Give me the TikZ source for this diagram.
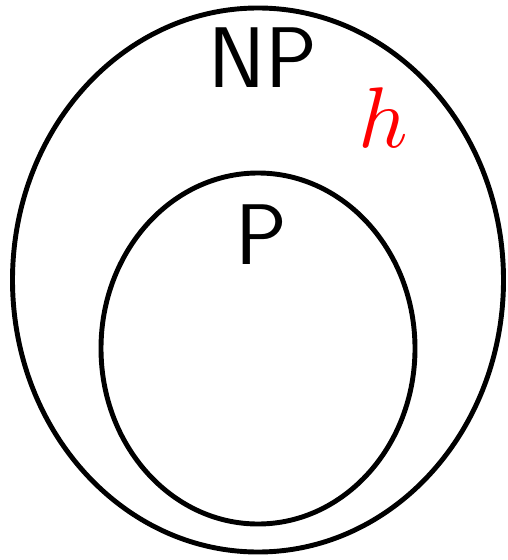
\documentclass[tikz,border=0pt]{standalone}
\usepackage{amsmath,amssymb}
\usepackage{graphicx}
\usepackage{xcolor}
\usepackage{tikz}
\tikzset{every picture/.append style={font=\fontsize{49}{58}\selectfont}}
\definecolor{figred}{HTML}{FF0000}
\tikzset{classset/.style={draw=black,line width=2.8pt},
  classlabel/.style={anchor=base,inner sep=0pt,font=\fontsize{49}{58}\selectfont\sffamily}}
\begin{document}
\begin{tikzpicture}[x=0.02cm,y=-0.02cm]
    \useasboundingbox (0,0) rectangle (507,560);
    \draw[classset] (258,280) ellipse [x radius=245.5,y radius=272];
    \draw[classset] (258,348.5) ellipse [x radius=157,y radius=175.5];
    \node[classlabel] (np) at (263,88) {NP};
    \node[classlabel] (p) at (261,264) {P};
    \node[anchor=base,inner sep=0pt,text=figred,font=\normalsize] (h) at (383,148) {\scalebox{4.9}{$h$}};
  \end{tikzpicture}
\end{document}
